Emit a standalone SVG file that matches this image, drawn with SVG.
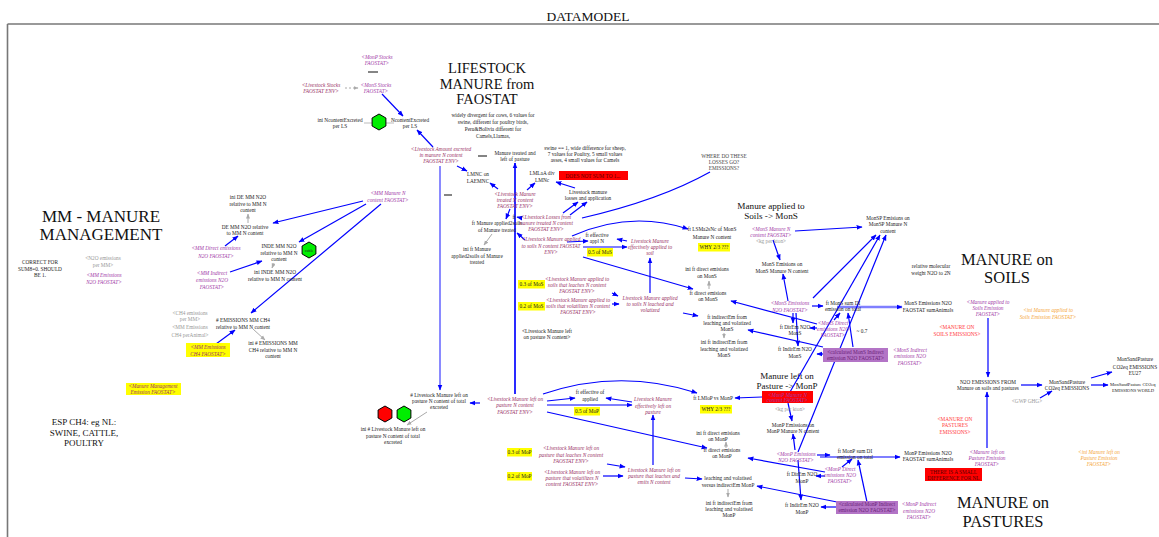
<svg xmlns="http://www.w3.org/2000/svg" width="1159" height="537" viewBox="0 0 1159 537">
<defs>
<marker id="ab" viewBox="0 0 10 10" refX="9" refY="5" markerWidth="6" markerHeight="6" markerUnits="userSpaceOnUse" orient="auto"><path d="M0,1 L10,5 L0,9 z" fill="#0000ff"/></marker>
<marker id="ag" viewBox="0 0 10 10" refX="9" refY="5" markerWidth="5" markerHeight="5" markerUnits="userSpaceOnUse" orient="auto"><path d="M0,1 L10,5 L0,9 z" fill="#aaaaaa"/></marker>
<style>
text{font-family:"Liberation Serif","Times New Roman",serif;font-size:5.3px;fill:#222;text-anchor:middle}
.p{fill:#993366;font-style:italic}
.v{fill:#a23ba8;font-style:italic}
.g{fill:#999999}
.o{fill:#f5a63a;font-style:italic}
.r{fill:#ff3b3b}
.dk{fill:#550000}
.pb{fill:#6a1f78}
.h1{font-size:14.5px;fill:#111}
.h2{font-size:17px;fill:#111}
.h3{font-size:16.5px;fill:#111}
.h4{font-size:9.2px;fill:#111}
.h5{font-size:9px;fill:#111}
.a{stroke:#0000ff;stroke-width:1.2;fill:none;marker-end:url(#ab)}
.l{stroke:#0000ff;stroke-width:1.2;fill:none}
.ga{stroke:#aaaaaa;stroke-width:1;fill:none;marker-end:url(#ag)}
.yb{fill:#ffff00}
.rb{fill:#ff0000}
.pbx{fill:#b374c6}
.hexg{fill:#00ee00;stroke:#000;stroke-width:1}
.hexr{fill:#ff0000;stroke:#000;stroke-width:1}
.eq{stroke:#333;stroke-width:1.2}
</style>
</defs>
<rect x="0" y="0" width="1159" height="537" fill="#ffffff"/>
<g id="frame">
<line x1="7.5" y1="24" x2="1159" y2="24" stroke="#777" stroke-width="1.6"/>
<line x1="7.5" y1="24" x2="7.5" y2="537" stroke="#777" stroke-width="1.6"/>
<text x="588" y="21" style="font-size:13.5px;fill:#111">DATAMODEL</text>
</g>

<g id="titles">
<text class="h1" x="487"><tspan x="487" y="73">LIFESTOCK</tspan><tspan x="487" y="88.5">MANURE from</tspan><tspan x="487" y="104">FAOSTAT</tspan></text>
<text class="h2" x="101"><tspan x="101" y="222">MM - MANURE</tspan><tspan x="101" y="240">MANAGEMENT</tspan></text>
<text class="h3" x="1007"><tspan x="1007" y="265">MANURE on</tspan><tspan x="1007" y="283">SOILS</tspan></text>
<text class="h3" x="1003"><tspan x="1003" y="508">MANURE on</tspan><tspan x="1003" y="527">PASTURES</tspan></text>
<text class="h4" x="771"><tspan x="771" y="209">Manure applied to</tspan><tspan x="771" y="219">Soils -&gt; MonS</tspan></text>
<text class="h5" x="787"><tspan x="787" y="379">Manure left on</tspan><tspan x="787" y="389">Pasture -&gt; MonP</tspan></text>
<text class="h5" x="84"><tspan x="84" y="425">ESP CH4: eg NL:</tspan><tspan x="84" y="436">SWINE, CATTLE,</tspan><tspan x="84" y="446">POULTRY</tspan></text>
</g>

<g id="connectors">
<path class="a" d="M363,201 L273,223"/>
<path class="a" d="M366,204 L299,242"/>
<path class="a" d="M381,204 L251,313"/>
<path class="a" d="M225,246 L238,236"/>
<path class="a" d="M230,272 L262,261"/>
<path class="a" d="M216,344 L235,330"/>
<path class="a" d="M382,94 L403,116"/>
<path class="a" d="M433,147 L417,130"/>
<path class="a" d="M457,166 L467,171"/>
<path d="M440,166 L440,390" stroke="#8a8aff" stroke-width="2" fill="none" marker-end="url(#ab)"/>
<path d="M515,394 L515,163" stroke="#2a2aff" stroke-width="2" fill="none" marker-end="url(#ab)"/>
<path class="a" d="M498,189 L490,183"/>
<path class="a" d="M527,190 L535,183"/>
<path class="a" d="M575,188 L556,182"/>
<path class="a" d="M510,209 L506,219"/>
<path class="a" d="M522,218 L517,217"/>
<path class="a" d="M563,213 L578,202"/>
<path class="a" d="M570,215 L587,202"/>
<path class="l" d="M582,218 Q660,200 710,172"/>
<path class="a" d="M525,240 L517,233"/>
<path class="a" d="M572,236 Q630,210 688,229"/>
<path class="a" d="M567,242 L588,241"/>
<path class="a" d="M627,241 L617,239"/>
<path class="a" d="M583,247 L627,247"/>
<path class="a" d="M650,293 L650,258"/>
<path class="a" d="M583,257 L693,289"/>
<path class="a" d="M612,293 L618,296"/>
<path class="a" d="M612,304 L619,304"/>
<path class="a" d="M683,313 L698,316"/>
<path class="a" d="M795,231 L862,227"/>
<path class="a" d="M773,240 L780,260"/>
<path class="a" d="M788,301 L783,274"/>
<path class="a" d="M812,306 L823,306"/>
<path class="a" d="M813,298 L876,235"/>
<path class="a" d="M793,313 L793,323"/>
<path class="a" d="M796,313 L798,346"/>
<path class="a" d="M817,324 L731,301"/>
<path class="a" d="M817,328 L810,328"/>
<path class="a" d="M834,320 L840,313"/>
<path class="a" d="M853,347 L848,313"/>
<path class="a" d="M823,347 L748,330"/>
<path class="a" d="M823,354 L817,354"/>
<path d="M837,307 L902,307" stroke="#7f7fff" stroke-width="2.5" fill="none" marker-end="url(#ab)"/>
<path class="a" d="M790,392 L880,235"/>
<path class="a" d="M798,452 L886,235"/>
<path class="a" d="M988,318 L988,377"/>
<path class="a" d="M987,448 L987,392"/>
<path class="a" d="M1021,385 L1042,385"/>
<path class="a" d="M1040,398 L1052,391"/>
<path class="a" d="M1091,378 L1112,372"/>
<path class="a" d="M1091,385 L1108,385"/>
<path class="a" d="M480,403 L470,403"/>
<path class="a" d="M543,394 Q620,368 697,393"/>
<path class="a" d="M547,401 L575,398"/>
<path class="a" d="M632,402 L606,398"/>
<path class="a" d="M547,405 L632,405"/>
<path class="a" d="M653,465 L653,415"/>
<path class="a" d="M547,412 L707,448"/>
<path class="a" d="M762,397 L735,398"/>
<path class="a" d="M607,464 L625,467"/>
<path class="a" d="M603,476 L623,476"/>
<path class="a" d="M685,478 L702,479"/>
<path class="a" d="M825,472 L748,458"/>
<path class="a" d="M837,502 L757,486"/>
<path class="a" d="M788,403 L792,421"/>
<path class="a" d="M795,450 L793,434"/>
<path class="a" d="M817,455 L830,455"/>
<path class="a" d="M820,457 L900,457"/>
<path class="a" d="M825,476 L816,476"/>
<path class="a" d="M842,467 L852,459"/>
<path class="a" d="M867,502 L858,460"/>
<path class="a" d="M798,460 L801,500"/>
<path class="a" d="M836,507 L821,507"/>
<path class="ga" d="M248,223 L248,214"/>
<path class="ga" d="M274,263 L272,268"/>
<path class="ga" d="M253,329 L265,340"/>
<path class="ga" d="M492,234 L484,245"/>
<path class="ga" d="M709,289 L709,281"/>
<path class="ga" d="M724,333 L724,338"/>
<path class="ga" d="M726,448 L726,442"/>
<path class="ga" d="M728,489 L728,497"/>
<path class="ga" d="M427,412 L407,425"/>
<path class="ga" d="M345,88 L358,88" stroke-dasharray="2,2"/>
<path d="M364,123 L372,123 M386,123 L394,123" stroke="#bbbbbb" stroke-width="1"/>
</g>

<g id="symbols">
<line class="eq" x1="368" y1="72" x2="378" y2="72"/>
<line class="eq" x1="478" y1="156" x2="487" y2="156"/>
<line class="eq" x1="444" y1="195" x2="452" y2="195"/>
</g>

<g id="n_correct"><text><tspan x="40" y="264">CORRECT FOR</tspan><tspan x="40" y="270.5">SUM8=0. SHOULD</tspan><tspan x="40" y="277">BE 1.</tspan></text></g>
<g id="n_n2o_per_mm"><text class="g"><tspan x="103" y="260">&lt;N2O emissions</tspan><tspan x="103" y="267">per MM&gt;</tspan></text></g>
<g id="n_mm_em_n2o"><text class="v"><tspan x="104" y="277">&lt;MM Emissions</tspan><tspan x="104" y="284">N2O FAOSTAT&gt;</tspan></text></g>
<g id="n_mm_mgmt"><rect class="yb" x="126" y="383" width="55" height="12"/><text class="p"><tspan x="153" y="388">&lt;Manure Management</tspan><tspan x="153" y="394">Emission FAOSTAT&gt;</tspan></text></g>
<g id="n_ini_de_mm"><text><tspan x="248" y="199">ini DE MM N2O</tspan><tspan x="248" y="206">relative to MM N</tspan><tspan x="248" y="212">content</tspan></text></g>
<g id="n_de_mm"><text><tspan x="245" y="229">DE MM N2O relative</tspan><tspan x="245" y="235">to MM N content</tspan></text></g>
<g id="n_mm_direct"><text class="v"><tspan x="216" y="250">&lt;MM Direct emissions</tspan><tspan x="216" y="258">N2O FAOSTAT&gt;</tspan></text></g>
<g id="n_inde_mm"><text><tspan x="279" y="248">INDE MM N2O</tspan><tspan x="279" y="254.5">relative to MM N</tspan><tspan x="279" y="261">content</tspan></text>
<polygon class="hexg" points="309,242 315.9,246 315.9,254 309,258 302.1,254 302.1,246"/><text x="309" y="251.5" style="font-size:4px">cattle</text></g>
<g id="n_mm_indirect"><text class="v"><tspan x="212" y="275">&lt;MM Indirect</tspan><tspan x="212" y="282">emissions N2O</tspan><tspan x="212" y="289">FAOSTAT&gt;</tspan></text></g>
<g id="n_ini_inde_mm"><text><tspan x="275" y="274">ini INDE MM N2O</tspan><tspan x="275" y="281">relative to MM N content</tspan></text></g>
<g id="n_ch4_per_mm"><text class="g"><tspan x="190" y="315">&lt;CH4 emissions</tspan><tspan x="190" y="321">per MM&gt;</tspan></text></g>
<g id="n_mm_em_ch4_animal"><text class="g"><tspan x="190" y="329">&lt;MM Emissions</tspan><tspan x="190" y="337">CH4 perAnimal&gt;</tspan></text></g>
<g id="n_em_mm_ch4"><text><tspan x="243" y="322"># EMISSIONS MM CH4</tspan><tspan x="243" y="329">relative to MM N content</tspan></text></g>
<g id="n_mm_em_ch4_fao"><rect class="yb" x="186" y="343" width="44" height="14"/><text class="p"><tspan x="208" y="349">&lt;MM Emissions</tspan><tspan x="208" y="356">CH4 FAOSTAT&gt;</tspan></text></g>
<g id="n_ini_em_mm_ch4"><text><tspan x="273" y="345">ini # EMISSIONS MM</tspan><tspan x="273" y="352">CH4 relative to MM N</tspan><tspan x="273" y="358">content</tspan></text></g>
<g id="n_mm_manure_n"><text class="v"><tspan x="388" y="195">&lt;MM Manure N</tspan><tspan x="388" y="202">content FAOSTAT&gt;</tspan></text></g>

<g id="n_monp_stocks"><text class="v"><tspan x="377" y="59">&lt;MonP Stocks</tspan><tspan x="377" y="65">FAOSTAT&gt;</tspan></text></g>
<g id="n_ls_stocks"><text class="p"><tspan x="321" y="87">&lt;Livestock Stocks</tspan><tspan x="321" y="93">FAOSTAT ENV&gt;</tspan></text></g>
<g id="n_mons_stocks"><text class="v"><tspan x="376" y="87">&lt;MonS Stocks</tspan><tspan x="376" y="93">FAOSTAT&gt;</tspan></text></g>
<g id="n_ini_ncontent"><text><tspan x="340" y="122">ini NcontentExcreted</tspan><tspan x="340" y="128">per LS</tspan></text>
<polygon class="hexg" points="379,114 385.9,118 385.9,126 379,130 372.1,126 372.1,118"/></g>
<g id="n_ncontent"><text><tspan x="410" y="122">NcontentExcreted</tspan><tspan x="410" y="128">per LS</tspan></text></g>
<g id="n_ls_amount"><text class="p"><tspan x="441" y="151">&lt;Livestock Amount excreted</tspan><tspan x="441" y="157">in manure N content</tspan><tspan x="441" y="163">FAOSTAT ENV&gt;</tspan></text></g>
<g id="n_widely"><text><tspan x="493" y="117">widely divergent for cows, 6 values for</tspan><tspan x="493" y="124">swine, different for poultry birds,</tspan><tspan x="493" y="131">Peru&amp;Bolivia different for</tspan><tspan x="493" y="138">Camels,Llamas,</tspan></text></g>
<g id="n_treated_left"><text><tspan x="515" y="155">Manure treated and</tspan><tspan x="515" y="161">left of pasture</tspan></text></g>
<g id="n_swine"><text><tspan x="585" y="150">swine == 1, wide difference for sheep,</tspan><tspan x="585" y="156">7 values for Poultry, 5 small values</tspan><tspan x="585" y="162">asses, 4 small values for Camels</tspan></text></g>
<g id="n_lmnc"><text><tspan x="478" y="176">LMNC on</tspan><tspan x="478" y="183">LAEMNC</tspan></text></g>
<g id="n_lmlaa"><text><tspan x="542" y="175">LMLaA div</tspan><tspan x="542" y="182">LMNc</tspan></text></g>
<g id="n_does_not_sum"><rect class="rb" x="559" y="171" width="69" height="9"/><text class="dk" x="593" y="177.5">DOES NOT SUM TO 1...</text></g>
<g id="n_losses_app"><text><tspan x="588" y="194">Livestock manure</tspan><tspan x="588" y="200">losses and application</tspan></text></g>
<g id="n_ls_treated"><text class="p"><tspan x="515" y="196">&lt;Livestock Manure</tspan><tspan x="515" y="202">treated N content</tspan><tspan x="515" y="208">FAOSTAT ENV&gt;</tspan></text></g>
<g id="n_ft_applied2soils"><text><tspan x="497" y="225">ft Manure applied2soils</tspan><tspan x="497" y="232">of Manure treated</tspan></text><text x="514" y="219">ft</text></g>
<g id="n_ini_ft_applied2soils"><text><tspan x="477" y="251">ini ft Manure</tspan><tspan x="477" y="258">applied2soils of Manure</tspan><tspan x="477" y="264">treated</tspan></text></g>
<g id="n_ls_losses"><text class="p"><tspan x="546" y="219">&lt;Livestock Losses from</tspan><tspan x="546" y="225">manure treated N content</tspan><tspan x="546" y="231">FAOSTAT ENV&gt;</tspan></text></g>
<g id="n_where"><text style="fill:#444"><tspan x="724" y="158">WHERE DO THESE</tspan><tspan x="724" y="164">LOSSES GO?</tspan><tspan x="724" y="170">EMISSIONS?</tspan></text></g>
<g id="n_ls_applied"><text class="p"><tspan x="551" y="241">&lt;Livestock Manure applied</tspan><tspan x="551" y="248">to soils N content FAOSTAT</tspan><tspan x="551" y="254">ENV&gt;</tspan></text></g>
<g id="n_ft_eff_appl"><text><tspan x="597" y="237">ft effective</tspan><tspan x="597" y="243">appl N</tspan></text></g>
<g id="n_05_mos"><rect class="yb" x="587" y="248" width="26" height="8.5"/><text x="600" y="254.3">0.5 of MoS</text></g>
<g id="n_ls_eff_applied"><text class="p"><tspan x="650" y="243">Livestock Manure</tspan><tspan x="650" y="249">effectively applied to</tspan><tspan x="650" y="255">soil</tspan></text></g>
<g id="n_ft_lsma2snc"><text><tspan x="712" y="231">ft LSMa2sNc of MonS</tspan><tspan x="712" y="239">Manure N content</tspan></text></g>
<g id="n_why_mons"><rect class="yb" x="698" y="243" width="32" height="8.5"/><text x="714" y="249.3">WHY 2/3 ???</text></g>
<g id="n_03_mos"><rect class="yb" x="518" y="280" width="27" height="8.5"/><text x="531.5" y="286.3">0.3 of MoS</text></g>
<g id="n_ls_app_leach"><text class="p"><tspan x="577" y="281">&lt;Livestock Manure applied to</tspan><tspan x="577" y="287">soils that leaches N content</tspan><tspan x="577" y="293">FAOSTAT ENV&gt;</tspan></text></g>
<g id="n_02_mos"><rect class="yb" x="518" y="302" width="27" height="8.5"/><text x="531.5" y="308.3">0.2 of MoS</text></g>
<g id="n_ls_app_vol"><text class="p"><tspan x="578" y="302">&lt;Livestock Manure applied to</tspan><tspan x="578" y="308">soils that volatilizes N content</tspan><tspan x="578" y="314">FAOSTAT ENV&gt;</tspan></text></g>
<g id="n_ls_app_leached_vol"><text class="p"><tspan x="650" y="300">Livestock Manure applied</tspan><tspan x="650" y="306">to soils N leached and</tspan><tspan x="650" y="312">volatized</tspan></text></g>
<g id="n_ls_left_pasture_black"><text><tspan x="547" y="333">&lt;Livestock Manure left</tspan><tspan x="547" y="339">on pasture N content&gt;</tspan></text></g>

<g id="n_mons_manure_n"><text class="v"><tspan x="771" y="231">&lt;MonS Manure N</tspan><tspan x="771" y="237">content FAOSTAT&gt;</tspan></text><text class="g" x="771" y="243">&lt;kg per kton&gt;</text></g>
<g id="n_monsp_em"><text><tspan x="888" y="220">MonSP Emisions on</tspan><tspan x="888" y="226">MonSP Manure N</tspan><tspan x="888" y="233">content</tspan></text></g>
<g id="n_mons_em_on"><text><tspan x="782" y="266">MonS Emisions on</tspan><tspan x="782" y="273">MonS Manure N content</tspan></text></g>
<g id="n_ini_ft_direct_mons"><text><tspan x="707" y="271">ini ft direct emisions</tspan><tspan x="707" y="278">on MonS</tspan></text></g>
<g id="n_ft_direct_mons"><text><tspan x="708" y="295">ft direct emisions</tspan><tspan x="708" y="301">on MonS</tspan></text></g>
<g id="n_ft_indirect_mons"><text><tspan x="727" y="319">ft indirectEm from</tspan><tspan x="727" y="325">leaching and volatized</tspan><tspan x="727" y="331">MonS</tspan></text></g>
<g id="n_ini_ft_indirect_mons"><text><tspan x="724" y="344">ini ft indirectEm from</tspan><tspan x="724" y="351">leaching and volatized</tspan><tspan x="724" y="357">MonS</tspan></text></g>
<g id="n_mons_em_n2o"><text class="v"><tspan x="790" y="305">&lt;MonS Emissions</tspan><tspan x="790" y="312">N2O FAOSTAT&gt;</tspan></text></g>
<g id="n_ft_mons_sum"><text><tspan x="843" y="305">ft MonS sum DI</tspan><tspan x="843" y="311">emission on total</tspan></text></g>
<g id="n_mons_sum_animals"><text><tspan x="928" y="305">MonS Emissions N2O</tspan><tspan x="928" y="312">FAOSTAT sumAnimals</tspan></text></g>
<g id="n_ft_direm_mons"><text><tspan x="795" y="329">ft DirEm N2O</tspan><tspan x="795" y="335">MonS</tspan></text></g>
<g id="n_mons_direct"><text class="v"><tspan x="833" y="325">&lt;MonS Direct</tspan><tspan x="833" y="331">emissions N2O</tspan><tspan x="833" y="337">FAOSTAT&gt;</tspan></text></g>
<g id="n_07"><text x="862" y="333">~ 0.7</text></g>
<g id="n_ft_indirem_mons"><text><tspan x="795" y="351">ft IndirEm N2O</tspan><tspan x="795" y="358">MonS</tspan></text></g>
<g id="n_calc_mons_ind"><rect class="pbx" x="823" y="348" width="65" height="14"/><text class="pb"><tspan x="855.5" y="354">&lt;calculated MonS Indirect</tspan><tspan x="855.5" y="360">emission N2O FAOSTAT&gt;</tspan></text></g>
<g id="n_mons_indirect"><text class="v"><tspan x="910" y="352">&lt;MonS Indirect</tspan><tspan x="910" y="358">emissions N2O</tspan><tspan x="910" y="365">FAOSTAT&gt;</tspan></text></g>
<g id="n_rel_mol"><text><tspan x="931" y="268">relative molecular</tspan><tspan x="931" y="275">weight N2O to 2N</tspan></text></g>

<g id="n_soils_emission"><text class="v"><tspan x="988" y="304">&lt;Manure applied to</tspan><tspan x="988" y="310">Soils Emission</tspan><tspan x="988" y="316">FAOSTAT&gt;</tspan></text></g>
<g id="n_ini_soils_emission"><text class="o"><tspan x="1048" y="312">&lt;ini Manure applied to</tspan><tspan x="1048" y="319">Soils Emission FAOSTAT&gt;</tspan></text></g>
<g id="n_soils_em_red"><text class="r"><tspan x="957" y="329">&lt;MANURE ON</tspan><tspan x="957" y="336">SOILS EMISSIONS&gt;</tspan></text></g>
<g id="n_n2o_em"><text><tspan x="988" y="384">N2O EMISSIONS FROM</tspan><tspan x="988" y="390">Manure on soils and pastures</tspan></text></g>
<g id="n_co2eq"><text><tspan x="1067" y="384">MonSandPasture</tspan><tspan x="1067" y="390">CO2eq EMISSIONS</tspan></text></g>
<g id="n_gwp"><text class="g" x="1027" y="403">&lt;GWP GHG&gt;</text></g>
<g id="n_eu27"><text><tspan x="1135" y="361">MonSandPasture</tspan><tspan x="1135" y="369">CO2eq EMISSIONS</tspan><tspan x="1135" y="375">EU27</tspan></text></g>
<g id="n_world"><text style="text-anchor:start;font-size:4.6px"><tspan x="1110" y="386">MonSandPasture CO2eq</tspan><tspan x="1112" y="392">EMISSIONS WORLD</tspan></text></g>
<g id="n_past_em_red"><text class="r"><tspan x="955" y="421">&lt;MANURE ON</tspan><tspan x="955" y="427">PASTURES</tspan><tspan x="955" y="434">EMISSIONS&gt;</tspan></text></g>
<g id="n_monp_sum_animals"><text><tspan x="928" y="455">MonP Emissions N2O</tspan><tspan x="928" y="461">FAOSTAT sumAnimals</tspan></text></g>
<g id="n_pasture_emission"><text class="v"><tspan x="987" y="454">&lt;Manure left on</tspan><tspan x="987" y="460">Pasture Emission</tspan><tspan x="987" y="466">FAOSTAT&gt;</tspan></text></g>
<g id="n_ini_pasture_emission"><text class="o"><tspan x="1099" y="454">&lt;ini Manure left on</tspan><tspan x="1099" y="460">Pasture Emission</tspan><tspan x="1099" y="466">FAOSTAT&gt;</tspan></text></g>
<g id="n_small_diff"><rect class="rb" x="925" y="468" width="57" height="13"/><text class="dk"><tspan x="953.5" y="473.5">THERE IS A SMALL</tspan><tspan x="953.5" y="479.5">DIFFERENCE FOR NL</tspan></text></g>
<g id="n_monp_indirect"><text class="v"><tspan x="919" y="506">&lt;MonP Indirect</tspan><tspan x="919" y="513">emissions N2O</tspan><tspan x="919" y="519">FAOSTAT&gt;</tspan></text></g>

<g id="n_ls_left_total"><text><tspan x="439" y="397"># Livestock Manure left on</tspan><tspan x="439" y="403">pasture N content of total</tspan><tspan x="439" y="409">excreted</tspan></text></g>
<g id="n_hex_pair"><polygon class="hexr" points="385,406 391.9,410 391.9,418 385,422 378.1,418 378.1,410"/><polygon class="hexg" points="404,406 410.9,410 410.9,418 404,422 397.1,418 397.1,410"/></g>
<g id="n_ini_ls_left_total"><text><tspan x="393" y="431">ini # Livestock Manure left on</tspan><tspan x="393" y="438">pasture N content of total</tspan><tspan x="393" y="444">excreted</tspan></text></g>
<g id="n_ls_left"><text class="p"><tspan x="515" y="401">&lt;Livestock Manure left on</tspan><tspan x="515" y="407">pasture N content</tspan><tspan x="515" y="414">FAOSTAT ENV&gt;</tspan></text></g>
<g id="n_ft_eff_of_applied"><text><tspan x="590" y="394">ft effective of</tspan><tspan x="590" y="401">applied</tspan></text></g>
<g id="n_05_mop"><rect class="yb" x="574" y="407" width="26" height="8.5"/><text x="587" y="413.3">0.5 of MoP</text></g>
<g id="n_ls_eff_left"><text class="p"><tspan x="653" y="401">Livestock Manure</tspan><tspan x="653" y="408">effectively left on</tspan><tspan x="653" y="414">pasture</tspan></text></g>
<g id="n_ft_lmlop"><text x="713" y="400">ft LMloP vs MonP</text></g>
<g id="n_why_monp"><rect class="yb" x="700" y="405" width="32" height="8.5"/><text x="716" y="411.3">WHY 2/3 ???</text></g>
<g id="n_ini_ft_direct_monp"><text><tspan x="718" y="435">ini ft direct emisions</tspan><tspan x="718" y="441">on MonP</tspan></text></g>
<g id="n_ft_direct_monp"><text><tspan x="722" y="452">ft direct emisions</tspan><tspan x="722" y="458">on MonP</tspan></text></g>
<g id="n_03_mop"><rect class="yb" x="507" y="448" width="25" height="8.5"/><text x="519.5" y="454.3">0.3 of MoP</text></g>
<g id="n_ls_left_leach"><text class="p"><tspan x="571" y="450">&lt;Livestock Manure left on</tspan><tspan x="571" y="457">pasture that leaches N content</tspan><tspan x="571" y="463">FAOSTAT ENV&gt;</tspan></text></g>
<g id="n_02_mop"><rect class="yb" x="507" y="472" width="25" height="8.5"/><text x="519.5" y="478.3">0.2 of MoP</text></g>
<g id="n_ls_left_vol"><text class="p"><tspan x="572" y="474">&lt;Livestock Manure left on</tspan><tspan x="572" y="480">pasture that volatilizes N</tspan><tspan x="572" y="486">content FAOSTAT ENV&gt;</tspan></text></g>
<g id="n_ls_left_emits"><text class="p"><tspan x="654" y="472">Livestock Manure left on</tspan><tspan x="654" y="478">pasture that leaches and</tspan><tspan x="654" y="484">emits N content</tspan></text></g>
<g id="n_leach_versus"><text><tspan x="728" y="480">leaching and volatised</tspan><tspan x="728" y="487">versus indirectEm MonP</tspan></text></g>
<g id="n_ini_ft_indirect_monp"><text><tspan x="729" y="505">ini ft indirectEm from</tspan><tspan x="729" y="511">leaching and volatised</tspan><tspan x="729" y="517">MonP</tspan></text></g>

<g id="n_monp_manure_n"><rect class="rb" x="762" y="391" width="51" height="12"/><text class="v"><tspan x="787.5" y="396.5">&lt;MonP Manure N</tspan><tspan x="787.5" y="402">content FAOSTAT&gt;</tspan></text><text class="g" x="790" y="411">&lt;kg per kton&gt;</text></g>
<g id="n_monp_em_on"><text><tspan x="793" y="427">MonP Emissions on</tspan><tspan x="793" y="433">MonP Manure N content</tspan></text></g>
<g id="n_monp_em_n2o"><text class="v"><tspan x="796" y="456">&lt;MonP Emissions</tspan><tspan x="796" y="462">N2O FAOSTAT&gt;</tspan></text></g>
<g id="n_ft_monp_sum"><text><tspan x="855" y="453">ft MonP sum DI</tspan><tspan x="855" y="459">emission on total</tspan></text></g>
<g id="n_ft_direm_monp"><text><tspan x="802" y="476">ft DirEm N2O</tspan><tspan x="802" y="483">MonP</tspan></text></g>
<g id="n_monp_direct"><text class="v"><tspan x="840" y="471">&lt;MonP Direct</tspan><tspan x="840" y="477">emissions N2O</tspan><tspan x="840" y="483">FAOSTAT&gt;</tspan></text></g>
<g id="n_ft_indirem_monp"><text><tspan x="802" y="507">ft IndirEm N2O</tspan><tspan x="802" y="514">MonP</tspan></text></g>
<g id="n_calc_monp_ind"><rect class="pbx" x="836" y="501" width="62" height="13"/><text class="pb"><tspan x="867" y="506">&lt;calculated MonP Indirect</tspan><tspan x="867" y="512">emission N2O FAOSTAT&gt;</tspan></text></g>
</svg>
